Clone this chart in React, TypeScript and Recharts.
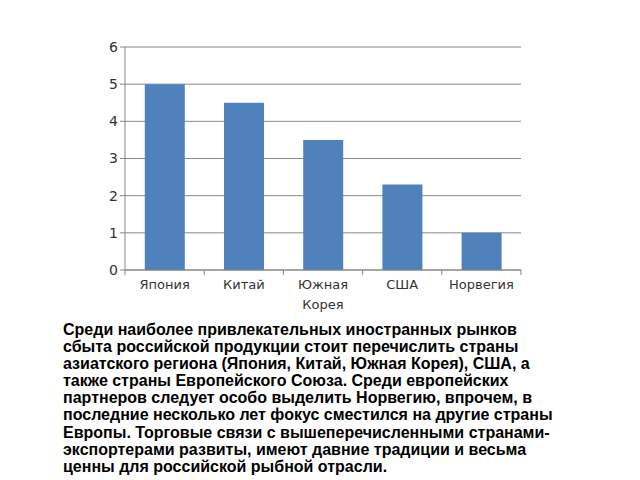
import { BarChart, Bar, XAxis, YAxis, CartesianGrid } from 'recharts';

const countries = ['Япония', 'Китай', 'Южная Корея', 'США', 'Норвегия'];
const values = [5, 4.5, 3.5, 2.3, 1];
const yTicks = [0, 1, 2, 3, 4, 5, 6];

const textLines = [
  'Среди наиболее привлекательных иностранных рынков',
  'сбыта российской продукции стоит перечислить страны',
  'азиатского региона (Япония, Китай, Южная Корея), США, а',
  'также страны Европейского Союза. Среди европейских',
  'партнеров следует особо выделить Норвегию, впрочем, в',
  'последние несколько лет фокус сместился на другие страны',
  'Европы. Торговые связи с вышеперечисленными странами-',
  'экспортерами развиты, имеют давние традиции и весьма',
  'ценны для российской рыбной отрасли.',
];

const data = countries.map((name, i) => ({ name, value: values[i] }));

const W = 640;
const H = 320;
const Y_W = 30;
const X_H = 50;
const M = { top: 47, right: 119, bottom: 0, left: 125 - Y_W };
const BAND = (W - 125 - M.right) / countries.length;
const AXIS = '#868686';
const LABEL = '#333';

function CategoryTick(props: any) {
  const { x, y, payload, index } = props;
  const words = String(payload.value).split(' ');
  const left = x - BAND / 2;
  return (
    <g>
      <line x1={left} y1={y - 8} x2={left} y2={y - 3} stroke={AXIS} />
      {index === countries.length - 1 && (
        <line x1={left + BAND} y1={y - 8} x2={left + BAND} y2={y - 3} stroke={AXIS} />
      )}
      <text x={x} y={y + 11} textAnchor="middle" fill={LABEL} fontSize={13}>
        {words.map((w, i) => (
          <tspan key={i} x={x} dy={i === 0 ? 0 : 20}>
            {w}
          </tspan>
        ))}
      </text>
    </g>
  );
}

export default function App() {
  return (
    <div
      style={{
        position: 'absolute',
        left: 0,
        top: 0,
        width: 640,
        height: 480,
        background: '#fff',
        fontFamily: '"DejaVu Sans", sans-serif',
      }}
    >
      <BarChart width={W} height={H} data={data} margin={M} barCategoryGap="25%">
        <CartesianGrid vertical={false} stroke={AXIS} />
        <XAxis
          dataKey="name"
          axisLine={{ stroke: AXIS }}
          tickLine={false}
          tick={<CategoryTick />}
          interval={0}
          height={X_H}
        />
        <YAxis
          domain={[0, 6]}
          ticks={yTicks}
          axisLine={{ stroke: AXIS }}
          tickLine={{ stroke: AXIS }}
          tickSize={5}
          tick={{ fill: LABEL, fontSize: 14 }}
          width={Y_W}
        />
        <Bar dataKey="value" fill="#4f81bd" isAnimationActive={false} />
      </BarChart>
      <div
        style={{
          position: 'absolute',
          left: 63,
          top: 321,
          fontFamily: '"Liberation Sans", Arial, sans-serif',
          fontWeight: 'bold',
          fontSize: 16,
          lineHeight: '17.1px',
          color: '#000',
          whiteSpace: 'nowrap',
        }}
      >
        {textLines.map((l, i) => (
          <div key={i}>{l}</div>
        ))}
      </div>
    </div>
  );
}
